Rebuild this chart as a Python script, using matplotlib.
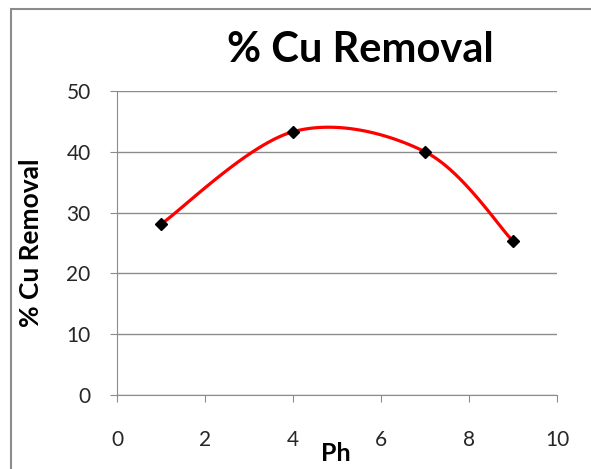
import matplotlib
matplotlib.use("Agg")
import matplotlib.pyplot as plt
import numpy as np
from matplotlib.patches import Rectangle

plt.rcParams["font.family"] = ["Lato", "DejaVu Sans"]

ph = [1, 4, 7, 9]
cu_removal = [28.1, 43.3, 40.0, 25.3]
x_ticks = [0, 2, 4, 6, 8, 10]
y_ticks = [0, 10, 20, 30, 40, 50]


def _smooth(x, y, n=40):
    # Excel-style smoothed line: cubic Bezier through the points,
    # control points from neighbours (Catmull-Rom, tension 1/6)
    x = np.asarray(x, float); y = np.asarray(y, float)
    px = np.concatenate([[x[0]], x, [x[-1]]])
    py = np.concatenate([[y[0]], y, [y[-1]]])
    xs, ys = [], []
    t = np.linspace(0, 1, n)
    for i in range(1, len(px) - 2):
        p0 = np.array([px[i], py[i]]); p3 = np.array([px[i + 1], py[i + 1]])
        p1 = p0 + (np.array([px[i + 1], py[i + 1]]) - np.array([px[i - 1], py[i - 1]])) / 6
        p2 = p3 - (np.array([px[i + 2], py[i + 2]]) - np.array([px[i], py[i]])) / 6
        b = ((1 - t) ** 3)[:, None] * p0 + (3 * (1 - t) ** 2 * t)[:, None] * p1 \
            + (3 * (1 - t) * t ** 2)[:, None] * p2 + (t ** 3)[:, None] * p3
        xs.append(b[:, 0]); ys.append(b[:, 1])
    return np.concatenate(xs), np.concatenate(ys)


fig = plt.figure(figsize=(5.91, 4.69), dpi=100)
fig.patches.append(Rectangle((11 / 591, -0.1), 1.2, 1 - 9.5 / 469 + 0.1,
                             transform=fig.transFigure, fill=False,
                             edgecolor="#8c8c8c", lw=1.5))
ax = fig.add_axes([117 / 591, 74 / 469, 440 / 591, 304 / 469])

sx, sy = _smooth(ph, cu_removal)
ax.plot(sx, sy, color="#ff0000", lw=2.3, zorder=3)
ax.plot(ph, cu_removal, "D", color="black", ms=6.5, zorder=4, ls="none")

ax.set_xlim(0, 10); ax.set_ylim(0, 50)
ax.set_xticks(x_ticks); ax.set_yticks(y_ticks)
ax.yaxis.grid(True, color="#8c8c8c", lw=1)
ax.set_axisbelow(True)
for s in ("top", "right"):
    ax.spines[s].set_visible(False)
for s in ("left", "bottom"):
    ax.spines[s].set_color("#8c8c8c")
ax.tick_params(colors="#8c8c8c", labelcolor="#262626", labelsize=15,
               length=5, direction="out")
ax.tick_params(axis="y", pad=14)
ax.tick_params(axis="x", pad=20)
ax.set_xlabel("Ph", fontsize=18, fontweight="bold")
ax.xaxis.set_label_coords(0.498, -0.155)
ax.set_ylabel("% Cu Removal", fontsize=19, fontweight="bold")
ax.yaxis.set_label_coords(-0.168, 0.5)
fig.text(360 / 591, 1 - 50 / 469, "% Cu Removal", fontsize=30,
         fontweight="bold", ha="center", va="center")

fig.savefig("out.png", dpi=100)
